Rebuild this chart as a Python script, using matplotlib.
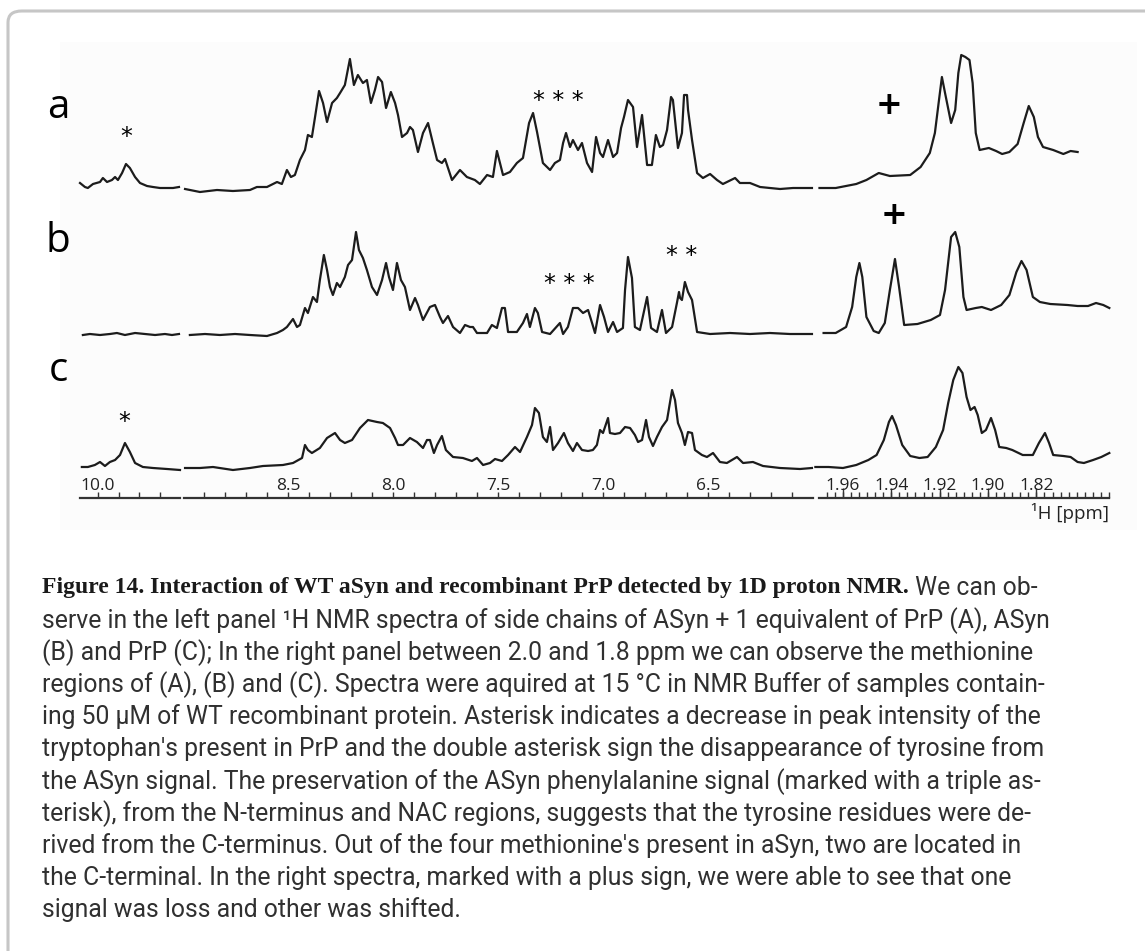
import matplotlib
matplotlib.use("Agg")
import matplotlib.pyplot as plt
from matplotlib import transforms
from matplotlib.patches import FancyBboxPatch, Rectangle

W, H = 1145, 951

# ---------------------------------------------------------------------------
# 1H spectra, read as (chemical shift in ppm, intensity in a.u.)
# lo  = indole NH region, mid = aromatic side chains, met = methionine methyls
# ---------------------------------------------------------------------------
a_lo_ppm = [10.087, 10.063, 10.049, 10.024, 9.990, 9.976, 9.956, 9.932, 9.917, 9.903,
            9.883, 9.864, 9.845, 9.820, 9.796, 9.762, 9.733, 9.699, 9.665, 9.636, 9.607]
a_lo_int = [6, 2, 1, 5, 7, 11, 7, 9, 12, 9, 16, 25, 21, 12, 6, 3, 2, 1, 1, 1, 2]

a_mid_ppm = [8.990, 8.919, 8.838, 8.762, 8.681, 8.648, 8.600, 8.552, 8.529, 8.505,
             8.486, 8.467, 8.443, 8.419, 8.405, 8.386, 8.371, 8.352, 8.333, 8.314,
             8.290, 8.267, 8.252, 8.229, 8.205, 8.186, 8.167, 8.143, 8.124, 8.105,
             8.086, 8.071, 8.052, 8.033, 8.010, 7.990, 7.976, 7.957, 7.933, 7.919,
             7.905, 7.881, 7.857, 7.833, 7.810, 7.790, 7.767, 7.752, 7.719, 7.681,
             7.648, 7.610, 7.586, 7.552, 7.524, 7.505, 7.476, 7.443, 7.410, 7.381,
             7.352, 7.333, 7.314, 7.286, 7.252, 7.229, 7.205, 7.190, 7.176, 7.157,
             7.143, 7.119, 7.100, 7.076, 7.052, 7.033, 7.014, 7.000, 6.976, 6.952,
             6.933, 6.914, 6.900, 6.881, 6.857, 6.838, 6.814, 6.790, 6.767, 6.748,
             6.729, 6.714, 6.695, 6.676, 6.667, 6.643, 6.624, 6.614, 6.600, 6.595,
             6.576, 6.552, 6.524, 6.490, 6.457, 6.429, 6.371, 6.348, 6.300, 6.252,
             6.205, 6.157, 6.095, 6.005]
a_mid_int = [0, -3, -1, -2, -1, 2, 2, 7, 5, 19,
             12, 14, 29, 39, 54, 52, 72, 98, 86, 67,
             86, 91, 96, 104, 130, 104, 114, 106, 109, 86,
             99, 112, 107, 81, 97, 86, 74, 52, 56, 62,
             59, 37, 56, 66, 46, 29, 26, 30, 9, 19,
             12, 9, 5, 14, 12, 38, 14, 17, 26, 31,
             66, 76, 57, 26, 19, 26, 29, 46, 56, 42,
             49, 39, 46, 26, 17, 52, 36, 32, 49, 32,
             36, 61, 72, 89, 82, 42, 74, 24, 24, 54,
             42, 44, 59, 92, 89, 41, 56, 94, 94, 79,
             49, 16, 11, 15, 9, 5, 11, 6, 6, 2,
             1, 0, 1, 1]

a_met_ppm = [1.9697, 1.9630, 1.9545, 1.9503, 1.9452, 1.9406, 1.9322, 1.9279, 1.9241, 1.9220,
             1.9203, 1.9191, 1.9178, 1.9153, 1.9136, 1.9123, 1.9111, 1.9094, 1.9077, 1.9064,
             1.9051, 1.9035, 1.8997, 1.8967, 1.8942, 1.8912, 1.8878, 1.8853, 1.8832, 1.8811,
             1.8794, 1.8773, 1.8731, 1.8689, 1.8659, 1.8630]
a_met_int = [1, 1, 5, 9, 16, 13, 14, 22, 36, 56,
             89, 112, 96, 66, 79, 116, 134, 132, 129, 106,
             56, 39, 41, 38, 35, 37, 45, 66, 83, 72,
             52, 42, 39, 35, 38, 37]

b_lo_ppm = [10.073, 10.039, 9.990, 9.942, 9.908, 9.869, 9.820, 9.772, 9.723, 9.675, 9.641, 9.607]
b_lo_int = [-1, 0, -1, 0, 1, -1, 1, 0, -1, 0, -1, 0]

b_mid_ppm = [8.967, 8.895, 8.824, 8.752, 8.681, 8.600, 8.552, 8.524, 8.505, 8.476,
             8.457, 8.443, 8.419, 8.405, 8.381, 8.362, 8.348, 8.329, 8.314, 8.300,
             8.286, 8.267, 8.252, 8.229, 8.214, 8.195, 8.176, 8.162, 8.143, 8.124,
             8.100, 8.076, 8.052, 8.033, 8.019, 8.000, 7.981, 7.962, 7.943, 7.919,
             7.895, 7.881, 7.857, 7.824, 7.800, 7.776, 7.762, 7.738, 7.714, 7.681,
             7.657, 7.633, 7.619, 7.600, 7.552, 7.529, 7.505, 7.481, 7.467, 7.452,
             7.410, 7.381, 7.362, 7.348, 7.324, 7.310, 7.290, 7.252, 7.205, 7.190,
             7.167, 7.143, 7.119, 7.095, 7.071, 7.052, 7.038, 7.014, 6.995, 6.976,
             6.952, 6.933, 6.905, 6.895, 6.881, 6.862, 6.848, 6.824, 6.790, 6.771,
             6.743, 6.719, 6.700, 6.671, 6.648, 6.638, 6.633, 6.624, 6.610, 6.595,
             6.576, 6.552, 6.490, 6.395, 6.300, 6.205, 6.110, 6.005]
b_mid_int = [-1, 0, -1, 0, -1, -2, 1, 4, 7, 15,
             7, 9, 26, 21, 37, 32, 54, 79, 64, 47,
             39, 51, 47, 57, 69, 74, 102, 84, 76, 64,
             47, 39, 54, 71, 57, 44, 71, 54, 47, 24,
             36, 29, 14, 27, 29, 17, 11, 18, 7, 1,
             9, 7, 7, 1, 1, 9, 6, 26, 26, 2,
             2, 11, 20, 7, 26, 21, 2, 0, 11, 0,
             7, 26, 26, 21, 24, 11, 1, 29, 17, 2,
             12, 2, 6, 44, 77, 56, 7, 4, 37, 6,
             2, 24, 1, 7, 31, 42, 36, 34, 52, 42,
             34, 2, 0, 1, 0, 1, 0, 0]

b_met_ppm = [1.9680, 1.9630, 1.9587, 1.9562, 1.9545, 1.9532, 1.9520, 1.9503, 1.9473, 1.9452,
             1.9427, 1.9406, 1.9385, 1.9368, 1.9347, 1.9292, 1.9237, 1.9199, 1.9178, 1.9153,
             1.9136, 1.9119, 1.9102, 1.9089, 1.9051, 1.9026, 1.8988, 1.8946, 1.8912, 1.8883,
             1.8862, 1.8841, 1.8815, 1.8786, 1.8743, 1.8672, 1.8630, 1.8587, 1.8554, 1.8524,
             1.8499]
b_met_int = [1, 1, 7, 27, 57, 71, 57, 17, 3, 1,
             11, 44, 75, 47, 9, 10, 14, 19, 44, 97,
             102, 87, 37, 24, 26, 27, 24, 29, 39, 62,
             73, 64, 37, 32, 30, 29, 28, 28, 31, 29,
             26]

c_lo_ppm = [10.078, 10.049, 10.015, 9.990, 9.966, 9.942, 9.917, 9.893, 9.869, 9.845,
            9.820, 9.782, 9.733, 9.665, 9.602]
c_lo_int = [1, 1, 3, 6, 2, 6, 8, 13, 25, 16, 5, 1, 0, -1, -2]

c_mid_ppm = [8.990, 8.919, 8.857, 8.762, 8.681, 8.619, 8.524, 8.476, 8.433, 8.419,
             8.405, 8.386, 8.348, 8.314, 8.276, 8.252, 8.229, 8.195, 8.157, 8.119,
             8.076, 8.048, 8.014, 7.990, 7.976, 7.952, 7.919, 7.886, 7.857, 7.838,
             7.824, 7.805, 7.790, 7.767, 7.748, 7.714, 7.667, 7.624, 7.600, 7.571,
             7.538, 7.514, 7.481, 7.452, 7.419, 7.395, 7.362, 7.338, 7.324, 7.305,
             7.286, 7.267, 7.252, 7.238, 7.214, 7.186, 7.167, 7.143, 7.124, 7.100,
             7.071, 7.048, 7.029, 7.014, 7.000, 6.976, 6.967, 6.943, 6.919, 6.895,
             6.871, 6.848, 6.833, 6.814, 6.795, 6.781, 6.762, 6.743, 6.719, 6.695,
             6.671, 6.657, 6.643, 6.624, 6.610, 6.595, 6.576, 6.562, 6.529, 6.505,
             6.476, 6.443, 6.410, 6.362, 6.333, 6.286, 6.238, 6.157, 6.062, 6.005]
c_mid_int = [0, 0, 1, -2, 0, 2, 3, 5, 10, 23,
             18, 15, 20, 30, 35, 28, 25, 28, 40, 48,
             46, 45, 40, 30, 23, 23, 30, 26, 20, 28,
             28, 15, 23, 32, 18, 11, 10, 7, 10, 3,
             5, 9, 7, 13, 21, 16, 31, 43, 60, 55,
             31, 26, 41, 18, 25, 35, 25, 17, 25, 18,
             17, 18, 23, 38, 35, 50, 35, 34, 35, 41,
             40, 33, 26, 28, 48, 31, 22, 31, 41, 48,
             78, 68, 45, 35, 23, 36, 35, 18, 13, 11,
             15, 6, 5, 11, 5, 6, 2, 0, -1, 0]

c_met_ppm = [1.9714, 1.9659, 1.9600, 1.9545, 1.9495, 1.9461, 1.9431, 1.9410, 1.9397, 1.9381,
             1.9355, 1.9322, 1.9284, 1.9250, 1.9216, 1.9186, 1.9165, 1.9144, 1.9123, 1.9106,
             1.9089, 1.9073, 1.9056, 1.9043, 1.9026, 1.9009, 1.8988, 1.8971, 1.8954, 1.8925,
             1.8900, 1.8857, 1.8815, 1.8790, 1.8765, 1.8748, 1.8731, 1.8689, 1.8659, 1.8630,
             1.8604, 1.8566, 1.8532, 1.8499]
c_met_int = [1, 1, 0, 3, 8, 13, 28, 46, 52, 43,
             23, 12, 10, 11, 21, 38, 65, 88, 101, 95,
             71, 58, 61, 53, 35, 38, 50, 38, 21, 20,
             18, 13, 13, 25, 35, 25, 13, 12, 11, 6,
             5, 8, 11, 15]

# ppm scale
lo_ticks = [10.0, 9.9, 9.8, 9.7]
mid_ticks = [round(8.9 - 0.1 * i, 1) for i in range(29)]
mid_labels = {8.5: "8.5", 8.0: "8.0", 7.5: "7.5", 7.0: "7.0", 6.5: "6.5"}
met_ticks = [round(1.9667 - 0.0033333 * i, 5) for i in range(36)]
met_label_pos = [1.96, 1.94, 1.92, 1.90, 1.88]
met_label_txt = ["1.96", "1.94", "1.92", "1.90", "1.82"]

# vertical stacking of the three samples (a.u.)
BASE = {"a": 309, "b": 164, "c": 30}

INK = "#1c1c1c"
LABEL_FONT = ["Open Sans", "DejaVu Sans"]

fig = plt.figure(figsize=(W / 100, H / 100), dpi=100)
fig.patch.set_facecolor("white")

# rounded frame (open to the right/bottom) and the pale panel behind the spectra
fig.patches.append(FancyBboxPatch((8 / W, -0.05), 1.2, 1 - 11 / H + 0.05,
                                  boxstyle="round,pad=0,rounding_size=0.012",
                                  transform=fig.transFigure, facecolor="none",
                                  edgecolor="#c6c6c6", linewidth=2.2, zorder=-2))
fig.patches.append(Rectangle((60 / W, 1 - 530 / H), (1137 - 60) / W, (530 - 42) / H,
                             transform=fig.transFigure, facecolor="#fcfcfc",
                             edgecolor="none", zorder=-2))


def px_axes(x0, x1, y0=40, y1=498):
    ax = fig.add_axes([x0 / W, 1 - y1 / H, (x1 - x0) / W, (y1 - y0) / H])
    ax.set_facecolor("none")
    ax.set_ylim(0, y1 - y0)
    ax.set_yticks([])
    for s in ("left", "right", "top"):
        ax.spines[s].set_visible(False)
    ax.spines["bottom"].set_linewidth(1.6)
    ax.spines["bottom"].set_color("#333333")
    return ax


def scale(ax, ticks, major, labels):
    ax.set_xticks(ticks)
    ax.set_xticklabels([])
    ax.tick_params(axis="x", direction="in", length=4, width=1.0, color="#333333")
    ax.set_xticks(major, minor=True)
    ax.tick_params(axis="x", which="minor", direction="in", length=7, width=1.0,
                   color="#333333")
    tr = transforms.blended_transform_factory(ax.transData, ax.transAxes)
    for pos, txt in zip(major, labels):
        ax.text(pos, 0.009, txt, transform=tr, ha="center", va="bottom",
                fontsize=12.5, family=LABEL_FONT, color="#222222")


ax_lo = px_axes(80, 180)
ax_lo.set_xlim(10.087, 9.602)
ax_mid = px_axes(184, 813)
ax_mid.set_xlim(8.995, 6.0)
ax_met = px_axes(819, 1109)
ax_met.set_xlim(1.9699, 1.8503)

traces = {
    "a": [(a_lo_ppm, a_lo_int), (a_mid_ppm, a_mid_int), (a_met_ppm, a_met_int)],
    "b": [(b_lo_ppm, b_lo_int), (b_mid_ppm, b_mid_int), (b_met_ppm, b_met_int)],
    "c": [(c_lo_ppm, c_lo_int), (c_mid_ppm, c_mid_int), (c_met_ppm, c_met_int)],
}
for key, segs in traces.items():
    for ax, (ppm, inten) in zip((ax_lo, ax_mid, ax_met), segs):
        ax.plot(ppm, [BASE[key] + v for v in inten], color=INK, lw=1.6,
                solid_joinstyle="round", clip_on=False)

scale(ax_lo, lo_ticks, [10.0], ["10.0"])
scale(ax_mid, mid_ticks, list(mid_labels), list(mid_labels.values()))
scale(ax_met, met_ticks, met_label_pos, met_label_txt)

ax_met.text(1.0, -0.012, "¹H [ppm]", transform=ax_met.transAxes, ha="right", va="top",
            fontsize=13.5, family=LABEL_FONT, color="#222222")

# sample letters (baseline positions)
for letter, y in (("a", 118), ("b", 252), ("c", 381)):
    fig.text(58 / W, 1 - y / H, letter, ha="center", va="baseline", fontsize=29,
             family=LABEL_FONT, color="black")

# peak markers (figure pixel positions)
marks = [("*", 126, 137), ("* * *", 558, 101), ("* * *", 569, 284),
         ("* *", 682, 256), ("*", 124, 422)]
for txt, x, y in marks:
    fig.text(x / W, 1 - y / H, txt, ha="center", va="center", fontsize=17,
             family="DejaVu Sans", color="black")
for x, y in ((889, 106), (894, 216)):
    fig.text(x / W, 1 - y / H, "+", ha="center", va="center", fontsize=23,
             fontweight="bold", family="DejaVu Sans", color="black")

# caption
cap_bold = "Figure 14. Interaction of WT aSyn and recombinant PrP detected by 1D proton NMR."
cap_lines = [
    " We can ob-",
    "serve in the left panel ¹H NMR spectra of side chains of ASyn + 1 equivalent of PrP (A), ASyn",
    "(B) and PrP (C); In the right panel between 2.0 and 1.8 ppm we can observe the methionine",
    "regions of (A), (B) and (C). Spectra were aquired at 15 °C in NMR Buffer of samples contain-",
    "ing 50 µM of WT recombinant protein. Asterisk indicates a decrease in peak intensity of the",
    "tryptophan's present in PrP and the double asterisk sign the disappearance of tyrosine from",
    "the ASyn signal. The preservation of the ASyn phenylalanine signal (marked with a triple as-",
    "terisk), from the N-terminus and NAC regions, suggests that the tyrosine residues were de-",
    "rived from the C-terminus. Out of the four methionine's present in aSyn, two are located in",
    "the C-terminal. In the right spectra, marked with a plus sign, we were able to see that one",
    "signal was loss and other was shifted.",
]
CAP_X, CAP_Y0, CAP_DY = 42, 588, 32.2
sans = dict(fontsize=17.8, family=["Roboto", "DejaVu Sans"], fontweight="normal", color="#303030")

t = fig.text(CAP_X / W, 1 - CAP_Y0 / H, cap_bold, ha="left", va="center", fontsize=17,
             family=["Liberation Serif", "DejaVu Serif"], fontweight="bold", color="#1a1a1a")
bb = t.get_window_extent(renderer=fig.canvas.get_renderer())
fig.text(bb.x1 / W, 1 - CAP_Y0 / H, cap_lines[0], ha="left", va="center", **sans)
for i, line in enumerate(cap_lines[1:], start=1):
    fig.text(CAP_X / W, 1 - (CAP_Y0 + i * CAP_DY) / H, line, ha="left", va="center", **sans)

fig.savefig("out.png", dpi=100, facecolor="white")
